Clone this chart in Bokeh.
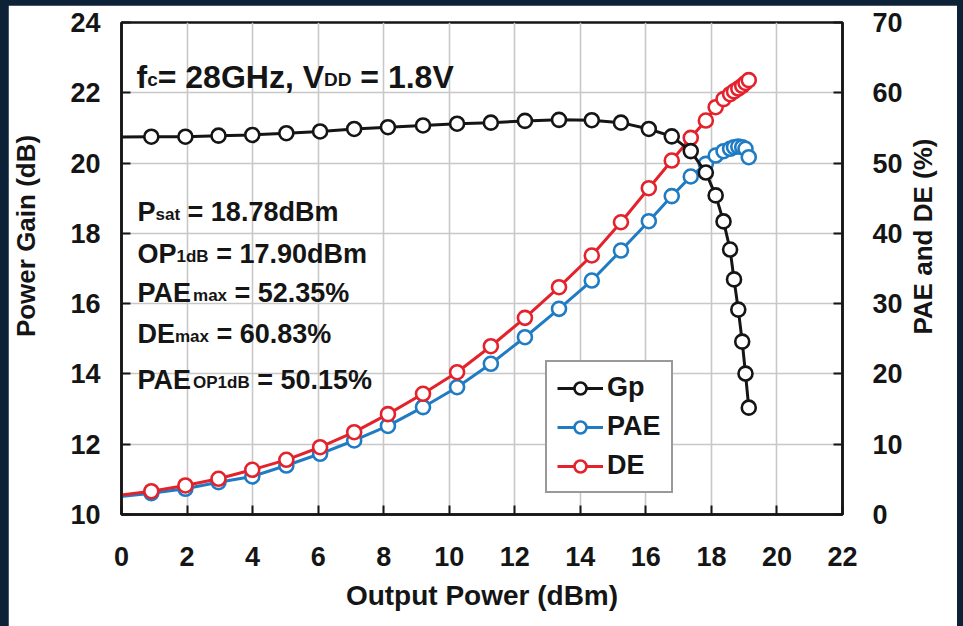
from math import pi
from bokeh.plotting import figure
from bokeh.models import (Range1d, LinearAxis, FixedTicker, Label, Legend, LegendItem,
                          GlobalInlineStyleSheet)
from bokeh.embed import file_html
from bokeh.resources import INLINE

# ---------------- data ----------------
pout = [-0.12, 0.91, 1.95, 2.96, 3.99, 5.03, 6.06, 7.10, 8.13, 9.20, 10.24, 11.27, 12.31,
        13.35, 14.35, 15.24, 16.09, 16.79, 17.37, 17.83, 18.13, 18.37, 18.57, 18.69,
        18.82, 18.94, 19.04, 19.14]
gp = [20.74, 20.75, 20.75, 20.78, 20.80, 20.85, 20.90, 20.97, 21.02, 21.07, 21.12, 21.15,
      21.20, 21.23, 21.22, 21.15, 20.97, 20.76, 20.34, 19.73, 19.08, 18.34, 17.54, 16.69,
      15.83, 14.92, 14.01, 13.04]
pae = [2.50, 3.03, 3.66, 4.60, 5.41, 6.97, 8.64, 10.53, 12.60, 15.27, 18.11, 21.44, 25.22,
       29.26, 33.29, 37.56, 41.73, 45.30, 48.09, 49.89, 51.07, 51.69, 52.03, 52.26, 52.35,
       52.26, 52.03, 50.83]
de = [2.70, 3.31, 4.13, 5.08, 6.36, 7.78, 9.57, 11.71, 14.28, 17.17, 20.24, 23.94, 27.98,
      32.34, 36.85, 41.58, 46.42, 50.36, 53.59, 56.05, 57.95, 59.10, 59.80, 60.20, 60.60,
      61.00, 61.40, 61.80]

x_ticks = [0, 2, 4, 6, 8, 10, 12, 14, 16, 18, 20, 22]
gain_ticks = [10, 12, 14, 16, 18, 20, 22, 24]
pct_ticks = [0, 10, 20, 30, 40, 50, 60, 70]

series_names = ["Gp", "PAE", "DE"]
x_title = "Output Power (dBm)"
left_title = "Power Gain (dB)"
right_title = "PAE and DE (%)"

# ---------------- style ----------------
FONT = "Liberation Sans"
INK = "#151515"
BLUE = "#1f7cc4"
RED = "#e4222b"
GRID = "#c8c8c8"
NAVY = "#0d2137"
NB = "\u00a0" * 9      # shifts the rotated left title up, as in the reference
RIGHT_TITLE_AT = 25.6  # where the right title starts, in % units (layout only)

# frame position on the page (layout only)
FL, FB = 119, 514

p = figure(width=949, height=621, output_backend="svg", toolbar_location=None,
           x_range=Range1d(0, 22), y_range=Range1d(10, 24),
           min_border_left=111, min_border_right=115, min_border_top=17,
           min_border_bottom=112, background_fill_color="white",
           border_fill_color="white")
p.extra_y_ranges = {"pct": Range1d(0, 70)}
p.outline_line_color = INK
p.outline_line_width = 2.5

p.xgrid.grid_line_color = GRID
p.ygrid.grid_line_color = GRID
p.xgrid.grid_line_width = 1.6
p.ygrid.grid_line_width = 1.6
p.xgrid.ticker = FixedTicker(ticks=x_ticks)
p.ygrid.ticker = FixedTicker(ticks=gain_ticks)


def style_axis(ax, standoff):
    ax.major_label_text_font = FONT
    ax.major_label_text_font_style = "bold"
    ax.major_label_text_font_size = "27px"
    ax.major_label_text_color = INK
    ax.major_label_standoff = standoff
    ax.axis_line_width = 2.5
    ax.axis_line_color = INK
    ax.major_tick_in = 9
    ax.major_tick_out = 0
    ax.major_tick_line_width = 2
    ax.major_tick_line_color = INK
    ax.minor_tick_line_color = None
    ax.axis_label_text_font = FONT
    ax.axis_label_text_font_style = "bold"
    ax.axis_label_text_color = INK


xa = p.xaxis[0]
xa.ticker = FixedTicker(ticks=x_ticks)
style_axis(xa, 32)
xa.axis_label = x_title
xa.axis_label_text_font_size = "28px"
xa.axis_label_standoff = 11

ya = p.yaxis[0]
ya.ticker = FixedTicker(ticks=gain_ticks)
style_axis(ya, 21)
ya.axis_label = NB + left_title
ya.axis_label_text_font_size = "26px"
ya.axis_label_standoff = 26

ra = LinearAxis(y_range_name="pct", ticker=FixedTicker(ticks=pct_ticks))
style_axis(ra, 30)
p.add_layout(ra, "right")

# right-hand title, written as the single rotated label of a bare axis
rt = LinearAxis(y_range_name="pct", ticker=FixedTicker(ticks=[RIGHT_TITLE_AT]),
                major_label_overrides={RIGHT_TITLE_AT: right_title})
style_axis(rt, 18)
rt.major_label_text_font_size = "26px"
rt.major_label_orientation = pi / 2
rt.axis_line_color = None
rt.major_tick_line_color = None
p.add_layout(rt, "right")

# ---------------- series ----------------
mx = pout[1:]
r_pae_l = p.line(pout, pae, y_range_name="pct", line_color=BLUE, line_width=3)
r_pae_m = p.scatter(mx, pae[1:], y_range_name="pct", marker="circle", size=14,
                    line_color=BLUE, line_width=2.6, fill_color="white")
r_de_l = p.line(pout, de, y_range_name="pct", line_color=RED, line_width=3)
r_de_m = p.scatter(mx, de[1:], y_range_name="pct", marker="circle", size=14,
                   line_color=RED, line_width=2.6, fill_color="white")
r_gp_l = p.line(pout, gp, line_color=INK, line_width=3)
r_gp_m = p.scatter(mx, gp[1:], marker="circle", size=14, line_color=INK,
                   line_width=2.6, fill_color="white")

legend = Legend(items=[
    LegendItem(label=series_names[0], renderers=[r_gp_l, r_gp_m]),
    LegendItem(label=series_names[1], renderers=[r_pae_l, r_pae_m]),
    LegendItem(label=series_names[2], renderers=[r_de_l, r_de_m]),
], location=(424, 21))
legend.label_text_font = FONT
legend.label_text_font_style = "bold"
legend.label_text_font_size = "27px"
legend.label_text_color = INK
legend.border_line_color = "#333333"
legend.border_line_width = 2.5
legend.background_fill_color = "white"
legend.background_fill_alpha = 1
legend.glyph_width = 46
legend.glyph_height = 30
legend.label_height = 30
legend.spacing = 8
legend.padding = 10
legend.label_standoff = 4
legend.margin = 0
p.add_layout(legend, "center")

# ---------------- texts ----------------
HB = {' ': 278, '%': 889, '(': 333, ')': 333, ',': 278, '.': 278, '=': 584,
      'A': 722, 'B': 722, 'C': 722, 'D': 722, 'E': 667, 'G': 778, 'H': 722, 'O': 778,
      'P': 667, 'V': 667, 'a': 556, 'c': 556, 'd': 611, 'f': 333, 'm': 889, 's': 556,
      't': 333, 'x': 556, 'z': 500}
for dch in "0123456789":
    HB[dch] = 556


def text_w(s, size):
    return sum(HB.get(ch, 600) for ch in s) * size / 1000.0


def rich(parts, x0, base, size, sub_size, drop):
    x = x0
    for txt, sub in parts:
        sz = sub_size if sub else size
        lead = len(txt) - len(txt.lstrip(" "))
        x += text_w(" " * lead, sz)
        body = txt.strip(" ")
        yb = base + (drop if sub else 0)
        p.add_layout(Label(x=x - FL, y=FB - yb, x_units="screen", y_units="screen",
                           text=body, text_font=FONT, text_font_style="bold",
                           text_font_size=f"{sz}px", text_color=INK,
                           text_align="left", text_baseline="alphabetic"))
        x += text_w(body, sz)
        trail = len(txt) - len(txt.rstrip(" "))
        x += text_w(" " * trail, sz)


rich([("f", 0), ("c", 1), ("= 28GHz, V", 0), ("DD", 1), (" = 1.8V", 0)],
     134, 76, 32, 19, 3)

stats = [
    ([("P", 0), ("sat", 1), (" = 18.78dBm", 0)], 211),
    ([("OP", 0), ("1dB", 1), (" = 17.90dBm", 0)], 253),
    ([("PAE", 0), ("max", 1), (" = 52.35%", 0)], 292),
    ([("DE", 0), ("max", 1), (" = 60.83%", 0)], 333),
    ([("PAE", 0), ("OP1dB", 1), (" = 50.15%", 0)], 379),
]
for parts, base in stats:
    rich(parts, 135, base, 27, 17, 3)

p.stylesheets = [GlobalInlineStyleSheet(
    css=f"html, body {{ background: {NAVY}; overflow: hidden; }} "
        f"body {{ padding: 5px 0 0 8px; }}")]

open("out.html", "w").write(file_html(p, INLINE))
